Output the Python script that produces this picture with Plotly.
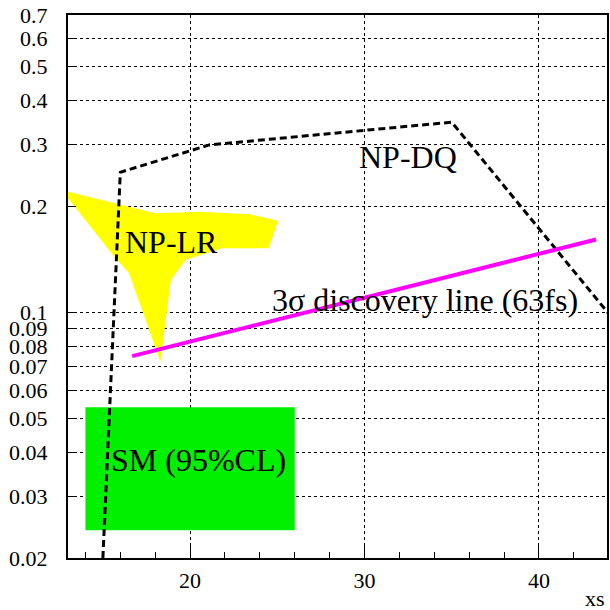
import numpy as np
import plotly.graph_objects as go

# NP-DQ dashed contour
dq_x = [15.0, 16.0, 21.1, 35.0, 44.0]
dq_y = [0.02, 0.25, 0.299, 0.347, 0.099]

# NP-LR yellow region
lr_x = [13.0, 18.0, 20.5, 23.4, 25.05, 24.5, 21.85, 19.75, 18.9, 18.3, 16.5, 15.65, 13.0]
lr_y = [0.220, 0.191, 0.193, 0.190, 0.182, 0.152, 0.152, 0.141, 0.1235, 0.0723, 0.129, 0.144, 0.211]

# SM (95% CL) box
sm_x = [14.0, 26.0, 26.0, 14.0, 14.0]
sm_y = [0.024, 0.024, 0.0537, 0.0537, 0.024]

# 3 sigma discovery line
disc_x = [16.68, 43.27]
disc_y = [0.075, 0.161]

y_ticks = [0.02, 0.03, 0.04, 0.05, 0.06, 0.07, 0.08, 0.09, 0.1, 0.2, 0.3, 0.4, 0.5, 0.6, 0.7]
y_tick_text = ["0.02", "0.03", "0.04", "0.05", "0.06", "0.07", "0.08", "0.09", "0.1",
               "0.2", "0.3", "0.4", "0.5", "0.6", "0.7"]
x_ticks = [20, 30, 40]

FONT = "Liberation Serif"

fig = go.Figure()
fig.add_trace(go.Scatter(x=lr_x, y=lr_y, fill="toself", fillcolor="#ffff00",
                         mode="lines", line=dict(width=0, color="#ffff00"),
                         hoverinfo="skip", showlegend=False))
fig.add_trace(go.Scatter(x=sm_x, y=sm_y, fill="toself", fillcolor="#00f000",
                         mode="lines", line=dict(width=0, color="#00f000"),
                         hoverinfo="skip", showlegend=False))
fig.add_trace(go.Scatter(x=dq_x, y=dq_y, mode="lines",
                         line=dict(color="black", width=3, dash="7px,4px"),
                         showlegend=False))
fig.add_trace(go.Scatter(x=disc_x, y=disc_y, mode="lines",
                         line=dict(color="#ff00ff", width=4),
                         showlegend=False))

ann_font = dict(family=FONT, size=32, color="black")
fig.add_annotation(x=32.52, y=np.log10(0.276), text="NP-DQ", showarrow=False, font=ann_font)
fig.add_annotation(x=18.91, y=np.log10(0.158), text="NP-LR", showarrow=False, font=ann_font)
fig.add_annotation(x=33.49, y=np.log10(0.108), text="3σ discovery line (63fs)", showarrow=False, font=ann_font)
fig.add_annotation(x=20.5, y=np.log10(0.038), text="SM (95%CL)", showarrow=False, font=ann_font)
fig.add_annotation(x=1.0, xref="paper", xanchor="right", y=-0.074, yref="paper",
                   yanchor="middle", text="xs", showarrow=False,
                   font=dict(family=FONT, size=22, color="black"))

# long tick at 0.1
fig.add_shape(type="line", xref="paper", yref="y", x0=0, x1=15/541,
              y0=np.log10(0.1), y1=np.log10(0.1), line=dict(color="black", width=1))

fig.update_xaxes(range=[13, 43.9], tickvals=x_ticks, ticks="inside", ticklen=14,
                 tickcolor="black", tickwidth=1,
                 showgrid=True, gridcolor="black", griddash="dot", gridwidth=1,
                 showline=True, linecolor="black", linewidth=2, mirror=True,
                 zeroline=False, ticklabelstandoff=2,
                 tickfont=dict(family=FONT, size=22, color="black"),
                 minor=dict(tick0=0, dtick=2, ticks="inside", ticklen=6,
                            tickcolor="black", showgrid=False))
fig.update_yaxes(type="log", range=[np.log10(0.02), np.log10(0.7)],
                 tickvals=y_ticks, ticktext=y_tick_text,
                 ticks="inside", ticklen=8, tickcolor="black", tickwidth=1,
                 showgrid=True, gridcolor="black", griddash="dot", gridwidth=1,
                 showline=True, linecolor="black", linewidth=2, mirror=True,
                 zeroline=False, ticklabelstandoff=14,
                 tickfont=dict(family=FONT, size=22, color="black"))

fig.update_layout(width=610, height=610,
                  margin=dict(l=68, r=1, t=15, b=52),
                  plot_bgcolor="white", paper_bgcolor="white",
                  showlegend=False)

fig.write_html("out.html")
